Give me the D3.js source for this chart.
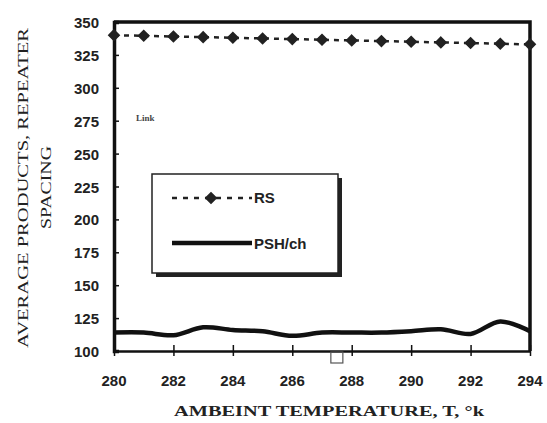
<!DOCTYPE html>
<html>
<head>
<meta charset="utf-8">
<script src="https://cdnjs.cloudflare.com/ajax/libs/d3/7.8.5/d3.min.js"></script>
<style>
  body { margin: 0; background: #fff; }
  svg { display: block; }
</style>
</head>
<body>
<script>

var temps = [280, 281, 282, 283, 284, 285, 286, 287, 288, 289, 290, 291, 292, 293, 294]
var rsValues = [340, 339.5, 339, 338.5, 338, 337.5, 337, 336.5, 336, 335.5, 335, 334.5, 334, 333.5, 333]
var pshValues = [114, 114, 112, 118, 116, 115, 111.5, 114, 114, 114, 115, 116.5, 113, 122.5, 115]
var xTicks = [280, 282, 284, 286, 288, 290, 292, 294]
var yTicks = [100, 125, 150, 175, 200, 225, 250, 275, 300, 325, 350]
var seriesNames = ["RS", "PSH/ch"]

var width = 547,
    height = 423

var svg = d3.select("body")
            .append("svg")
            .attr("width", width)
            .attr("height", height)

var x = d3.scaleLinear().domain([280, 294]).range([114, 530])
var y = d3.scaleLinear().domain([100, 350]).range([351, 22])

var serif = "'Liberation Serif', 'DejaVu Serif', serif"
var sans = "'Liberation Sans', Arial, sans-serif"

// frame: top and right thick borders
svg.append("path")
    .attr("d", "M" + x(280) + "," + y(350) + "H" + x(294) + "V" + y(100))
    .style("fill", "none")
    .style("stroke", "#111")
    .style("stroke-width", 3.5)

// y axis, ticks pointing inside
var yAxis = svg.append("g")
    .attr("transform", "translate(" + x(280) + ",0)")
    .call(d3.axisRight(y).tickValues(yTicks).tickSize(5).tickFormat(""))
yAxis.select(".domain").style("stroke", "#111").style("stroke-width", 3.5)
yAxis.selectAll(".tick line").style("stroke", "#111").style("stroke-width", 1.5)

svg.selectAll(".ylab")
    .data(yTicks)
    .enter()
    .append("text")
    .attr("class", "ylab")
    .attr("x", 99)
    .attr("y", function(d){ return y(d) + 6 })
    .attr("text-anchor", "end")
    .style("font-family", sans)
    .style("font-weight", "bold")
    .style("font-size", "15px")
    .style("fill", "#222")
    .text(function(d){ return d })

// x axis, ticks crossing
var xAxis = svg.append("g")
    .attr("transform", "translate(0," + y(100) + ")")
    .call(d3.axisBottom(x).tickValues(xTicks).tickSizeInner(5).tickSizeOuter(0).tickFormat(""))
xAxis.select(".domain").style("stroke", "#111").style("stroke-width", 2.5)
xAxis.selectAll(".tick line")
    .attr("y1", -6)
    .attr("y2", 5)
    .style("stroke", "#111")
    .style("stroke-width", 1.5)

svg.selectAll(".xlab")
    .data(xTicks)
    .enter()
    .append("text")
    .attr("class", "xlab")
    .attr("x", function(d){ return x(d) })
    .attr("y", 386)
    .attr("text-anchor", "middle")
    .style("font-family", sans)
    .style("font-weight", "bold")
    .style("font-size", "15px")
    .style("fill", "#222")
    .text(function(d){ return d })

// small square under the axis
svg.append("rect")
    .attr("x", x(287.5) - 6)
    .attr("y", y(100) + 1)
    .attr("width", 12)
    .attr("height", 11)
    .style("fill", "none")
    .style("stroke", "#555")
    .style("stroke-width", 1.2)

// PSH/ch line
var pshLine = d3.line()
    .x(function(d, i){ return x(temps[i]) })
    .y(function(d){ return y(d) })
    .curve(d3.curveCatmullRom)

svg.append("path")
    .datum(pshValues)
    .attr("d", pshLine)
    .style("fill", "none")
    .style("stroke", "#111")
    .style("stroke-width", 4.5)

// RS dashed line with diamonds
var rsLine = d3.line()
    .x(function(d, i){ return x(temps[i]) })
    .y(function(d){ return y(d) })

svg.append("path")
    .datum(rsValues)
    .attr("d", rsLine)
    .style("fill", "none")
    .style("stroke", "#222")
    .style("stroke-width", 2.5)
    .style("stroke-dasharray", "5,5")

var diamond = d3.symbol().type(d3.symbolDiamond2).size(70)

svg.selectAll(".rs")
    .data(rsValues)
    .enter()
    .append("path")
    .attr("class", "rs")
    .attr("d", diamond)
    .attr("transform", function(d, i){
      return "translate(" + x(temps[i]) + "," + y(d) + ")"
    })
    .style("fill", "#222")
    .style("stroke", "#222")
    .style("stroke-width", 1.5)

// stray label
svg.append("text")
    .attr("x", 136)
    .attr("y", 121)
    .style("font-family", serif)
    .style("font-size", "9px")
    .style("font-weight", "bold")
    .style("fill", "#444")
    .text("Link")

// legend
var lg = svg.append("g")

lg.append("rect")
    .attr("x", 156)
    .attr("y", 178)
    .attr("width", 186)
    .attr("height", 99)
    .style("fill", "#222")

lg.append("rect")
    .attr("x", 152)
    .attr("y", 174)
    .attr("width", 186)
    .attr("height", 99)
    .style("fill", "#fff")
    .style("stroke", "#222")
    .style("stroke-width", 1.5)

lg.append("line")
    .attr("x1", 172).attr("x2", 252)
    .attr("y1", 198).attr("y2", 198)
    .style("stroke", "#222")
    .style("stroke-width", 2.5)
    .style("stroke-dasharray", "5,6")

lg.append("path")
    .attr("d", diamond)
    .attr("transform", "translate(211,198)")
    .style("fill", "#222")
    .style("stroke", "#222")
    .style("stroke-width", 1.5)

lg.append("line")
    .attr("x1", 172).attr("x2", 252)
    .attr("y1", 243).attr("y2", 243)
    .style("stroke", "#111")
    .style("stroke-width", 4.5)

lg.selectAll(".lgtext")
    .data(seriesNames)
    .enter()
    .append("text")
    .attr("class", "lgtext")
    .attr("x", 254)
    .attr("y", function(d, i){ return i == 0 ? 203 : 249 })
    .style("font-family", sans)
    .style("font-weight", "bold")
    .style("font-size", "15px")
    .style("fill", "#222")
    .text(function(d){ return d })

// axis titles
svg.append("text")
    .attr("x", 174)
    .attr("y", 416)
    .attr("textLength", 310)
    .attr("lengthAdjust", "spacingAndGlyphs")
    .style("font-family", serif)
    .style("font-weight", "bold")
    .style("font-size", "15px")
    .style("fill", "#222")
    .text("AMBEINT TEMPERATURE, T, °k")

var yt = svg.append("g")
    .attr("transform", "translate(0,188) rotate(-90)")

yt.append("text")
    .attr("x", -160)
    .attr("y", 28)
    .attr("textLength", 320)
    .attr("lengthAdjust", "spacingAndGlyphs")
    .style("font-family", serif)
    .style("font-size", "15px")
    .style("fill", "#222")
    .text("AVERAGE PRODUCTS, REPEATER")

yt.append("text")
    .attr("x", -41)
    .attr("y", 51)
    .attr("textLength", 83)
    .attr("lengthAdjust", "spacingAndGlyphs")
    .style("font-family", serif)
    .style("font-size", "15px")
    .style("fill", "#222")
    .text("SPACING")

</script>
</body>
</html>
